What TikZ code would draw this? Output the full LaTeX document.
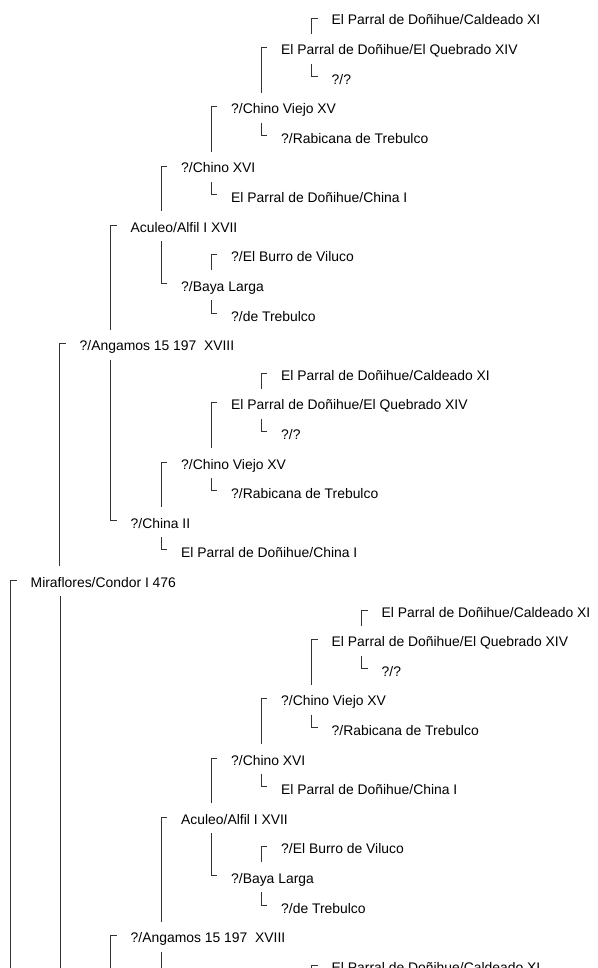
\documentclass[tikz,border=0pt]{standalone}
\usepackage{fontspec}
\setmainfont{Liberation Sans}
\usetikzlibrary{calc}

\tikzset{
  horse/.style={anchor=base west, inner sep=0pt, font=\fontsize{13.9}{16}\selectfont},
  link/.style={line width=0.9pt, black!80},
}

% sire bracket: from the parent down towards the foal
\newcommand{\sireline}[2]{\draw[link] let \p1=(#1), \p2=(#2) in
  (\x1-14pt,\y1+7pt) -- (\x1-20pt,\y1+7pt) -- (\x1-20pt,\y2+21pt);}
% dam bracket: from under the foal down to the parent
\newcommand{\damline}[2]{\draw[link] let \p1=(#1), \p2=(#2) in
  (\x1-20pt,\y2-9pt) -- (\x1-20pt,\y1+8pt) -- (\x1-14pt,\y1+8pt);}

\begin{document}
\begin{tikzpicture}[x=1pt, y=-1pt]

    \clip (0,0) rectangle (597,968);
    \fill[white] (0,0) rectangle (597,968);

    % Sire side of Miraflores
    \node[horse] (cald1) at (331.5,25) {El Parral de Doñihue/Caldeado XI};
    \node[horse] (queb1) at (281,54.6) {El Parral de Doñihue/El Quebrado XIV};
    \node[horse] (qq1) at (331.5,84.2) {?/?};
    \node[horse] (chv1) at (231,113.8) {?/Chino Viejo XV};
    \node[horse] (rab1) at (281,143.4) {?/Rabicana de Trebulco};
    \node[horse] (chx1) at (181,173) {?/Chino XVI};
    \node[horse] (chi1) at (231,202.6) {El Parral de Doñihue/China I};
    \node[horse] (acu1) at (130.5,232.2) {Aculeo/Alfil I XVII};
    \node[horse] (bur1) at (231,261.8) {?/El Burro de Viluco};
    \node[horse] (bay1) at (181,291.4) {?/Baya Larga};
    \node[horse] (tre1) at (231,321) {?/de Trebulco};
    \node[horse] (ang1) at (79.5,350.6) {?/Angamos 15 197 \ XVIII};
    \node[horse] (cald2) at (281,380.2) {El Parral de Doñihue/Caldeado XI};
    \node[horse] (queb2) at (231,409.8) {El Parral de Doñihue/El Quebrado XIV};
    \node[horse] (qq2) at (281,439.4) {?/?};
    \node[horse] (chv2) at (181,469) {?/Chino Viejo XV};
    \node[horse] (rab2) at (231,498.6) {?/Rabicana de Trebulco};
    \node[horse] (chii2) at (130.5,528.2) {?/China II};
    \node[horse] (chi2) at (181,557.8) {El Parral de Doñihue/China I};

    % Miraflores
    \node[horse] (mira) at (30.5,587.4) {Miraflores/Condor I 476};

    % Dam side of Miraflores
    \node[horse] (cald3) at (381.5,617) {El Parral de Doñihue/Caldeado XI};
    \node[horse] (queb3) at (331.5,646.6) {El Parral de Doñihue/El Quebrado XIV};
    \node[horse] (qq3) at (381.5,676.2) {?/?};
    \node[horse] (chv3) at (281,705.8) {?/Chino Viejo XV};
    \node[horse] (rab3) at (331.5,735.4) {?/Rabicana de Trebulco};
    \node[horse] (chx3) at (231,765) {?/Chino XVI};
    \node[horse] (chi3) at (281,794.6) {El Parral de Doñihue/China I};
    \node[horse] (acu3) at (181,824.2) {Aculeo/Alfil I XVII};
    \node[horse] (bur3) at (281,853.8) {?/El Burro de Viluco};
    \node[horse] (bay3) at (231,883.4) {?/Baya Larga};
    \node[horse] (tre3) at (281,913) {?/de Trebulco};
    \node[horse] (ang3) at (130.5,942.6) {?/Angamos 15 197 \ XVIII};
    \node[horse] (cald4) at (331.5,972.2) {El Parral de Doñihue/Caldeado XI};

    % free ends below the page
    \coordinate (miraKid) at (0,1040);
    \coordinate (miraDam) at (80.5,1060);
    \coordinate (ang3Kid) at (0,1000);
    \coordinate (ang3Dam) at (181,1100);
    \coordinate (queb4) at (0,1002);

    % Brackets, upper part
    \sireline{cald1.base west}{queb1.base}
    \damline{qq1.base west}{queb1.base}
    \sireline{queb1.base west}{chv1.base}
    \damline{rab1.base west}{chv1.base}
    \sireline{chv1.base west}{chx1.base}
    \damline{chi1.base west}{chx1.base}
    \sireline{chx1.base west}{acu1.base}
    \sireline{bur1.base west}{bay1.base}
    \damline{tre1.base west}{bay1.base}
    \damline{bay1.base west}{acu1.base}
    \sireline{acu1.base west}{ang1.base}
    \sireline{cald2.base west}{queb2.base}
    \damline{qq2.base west}{queb2.base}
    \sireline{queb2.base west}{chv2.base}
    \damline{rab2.base west}{chv2.base}
    \sireline{chv2.base west}{chii2.base}
    \damline{chi2.base west}{chii2.base}
    \damline{chii2.base west}{ang1.base}
    \sireline{ang1.base west}{mira.base}
    \sireline{mira.base west}{miraKid}
    \damline{miraDam}{mira.base}

    % Brackets, lower part
    \sireline{cald3.base west}{queb3.base}
    \damline{qq3.base west}{queb3.base}
    \sireline{queb3.base west}{chv3.base}
    \damline{rab3.base west}{chv3.base}
    \sireline{chv3.base west}{chx3.base}
    \damline{chi3.base west}{chx3.base}
    \sireline{chx3.base west}{acu3.base}
    \sireline{bur3.base west}{bay3.base}
    \damline{tre3.base west}{bay3.base}
    \damline{bay3.base west}{acu3.base}
    \sireline{acu3.base west}{ang3.base}
    \sireline{ang3.base west}{ang3Kid}
    \damline{ang3Dam}{ang3.base}
    \sireline{cald4.base west}{queb4}

\end{tikzpicture}
\end{document}
